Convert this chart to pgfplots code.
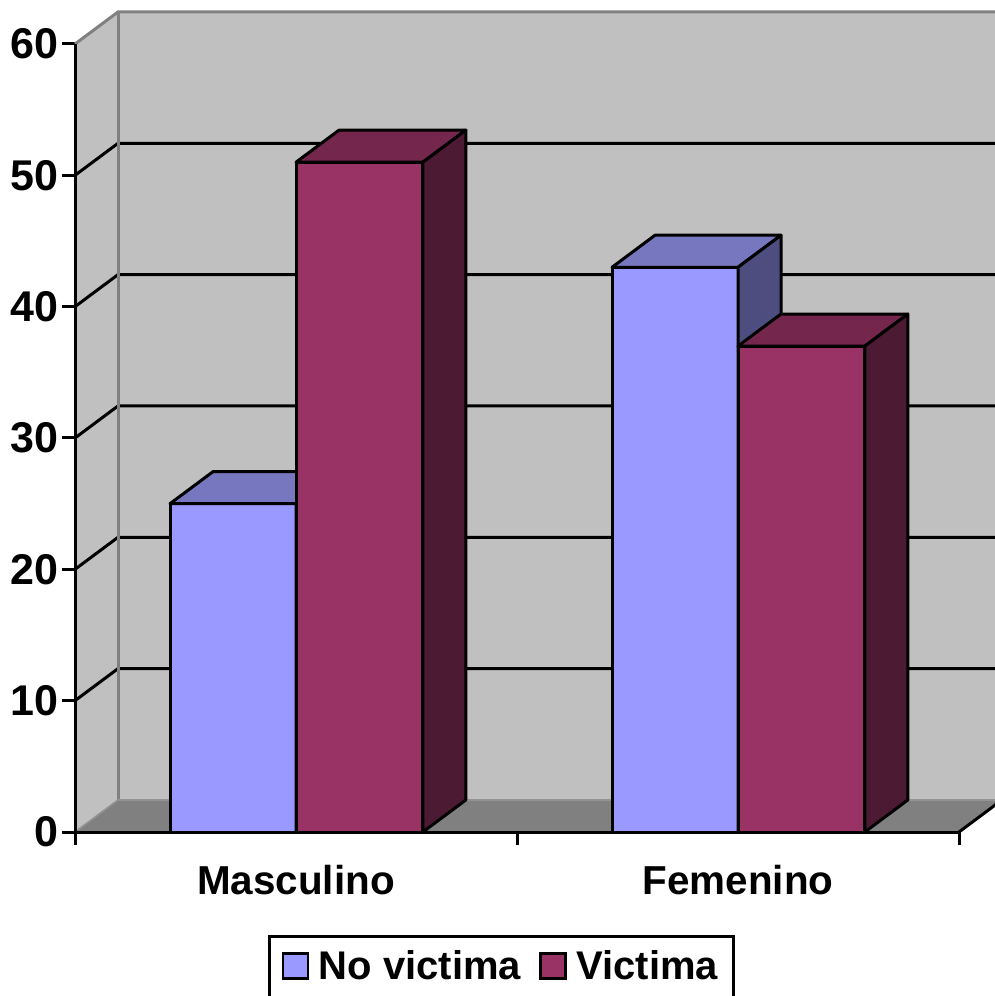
\documentclass[border=0pt]{standalone}
\usepackage{pgfplots}
\usepackage{fontspec}
\setmainfont{Liberation Sans}
\pgfplotsset{compat=1.18}
\definecolor{wall}{HTML}{C0C0C0}
\definecolor{flr}{HTML}{808080}
\definecolor{nvF}{HTML}{9999FF}
\definecolor{nvT}{HTML}{7777C0}
\definecolor{nvS}{HTML}{4D4D80}
\definecolor{vF}{HTML}{993366}
\definecolor{vT}{HTML}{74264D}
\definecolor{vS}{HTML}{4D1A33}
\pgfplotsset{sqlegend/.style={legend image code/.code={\path[draw=none,fill=none] (0pt,0pt) rectangle (16pt,0pt);\draw[##1] (0pt,-0.8pt) rectangle (12.6pt,11.8pt);}}}
% one bar: x0, x1, value, front, top, side (depth 0.0973 in x, 2.44 in y)
\newcommand{\threedbar}[6]{%
  \pgfmathsetmacro{\xa}{#1}\pgfmathsetmacro{\xb}{#2}\pgfmathsetmacro{\v}{#3}%
  \pgfmathsetmacro{\xc}{#1+0.0973}\pgfmathsetmacro{\xd}{#2+0.0973}\pgfmathsetmacro{\w}{#3+2.44}%
  \edef\temp{\noexpand\addplot[forget plot,draw=black,line width=1.5pt,line join=round,fill=#4] coordinates {(\xa,0) (\xb,0) (\xb,\v) (\xa,\v)} -- cycle;
  \noexpand\addplot[forget plot,draw=black,line width=1.5pt,line join=round,fill=#5] coordinates {(\xa,\v) (\xb,\v) (\xd,\w) (\xc,\w)} -- cycle;
  \noexpand\addplot[forget plot,draw=black,line width=1.5pt,line join=round,fill=#6] coordinates {(\xb,0) (\xd,2.44) (\xd,\w) (\xb,\v)} -- cycle;}%
  \temp}
\begin{document}
\begin{tikzpicture}[x=1pt,y=1pt]
\useasboundingbox (0,0) rectangle (497.5pt,498pt);
\clip (0,0) rectangle (497.5pt,498pt);
\begin{axis}[
  at={(37.5pt,82pt)}, anchor=origin,
  scale only axis, width=442pt, height=394pt,
  xmin=0, xmax=2, ymin=0, ymax=60,
  clip=false,
  axis x line=bottom, axis y line=left,
  axis line style={-, line width=1.5pt, black},
  tick style={line width=1.5pt, black},
  major tick length=6.5pt,
  xtick={0,1,2}, xticklabels={},
  extra x ticks={0.5,1.5},
  extra x tick labels={Masculino,Femenino},
  extra x tick style={major tick length=0pt, tick style={draw=none}},
  x tick label style={font=\fontsize{20.2}{24}\selectfont\bfseries, yshift=-16.5pt, inner sep=0pt},
  ytick={0,10,...,60},
  /pgf/number format/assume math mode=true,
  y tick label style={font=\fontsize{21.5}{24}\selectfont\bfseries, xshift=1.5pt},
  tick align=outside, tick pos=left,
  legend columns=2,
  legend style={at={(axis cs:0.4367,-7.85)}, anchor=north west, draw=black, line width=1.5pt,
    font=\fontsize{20}{24}\selectfont\bfseries, inner xsep=6pt, inner ysep=5pt, fill=white,
    /tikz/every even column/.append style={column sep=7pt}},
  legend cell align=left,
]
\addlegendimage{sqlegend, draw=black, line width=1.3pt, fill=nvF}
\addlegendentry[text depth=12pt]{No victima}
\addlegendimage{sqlegend, draw=black, line width=1.3pt, fill=vF}
\addlegendentry[text depth=12pt]{Victima\hspace{3pt}}
% left wall and back wall
\addplot[forget plot,fill=wall,draw=none] coordinates {(0,0) (0.0973,2.44) (0.0973,62.44) (0,60)} -- cycle;
\addplot[forget plot,fill=wall,draw=none] coordinates {(0.0973,2.44) (2.0973,2.44) (2.0973,62.44) (0.0973,62.44)} -- cycle;
% gridlines
\addplot[forget plot,black,line width=1.5pt] coordinates {(0,10) (0.0973,12.44) (2.0973,12.44)};
\addplot[forget plot,black,line width=1.5pt] coordinates {(0,20) (0.0973,22.44) (2.0973,22.44)};
\addplot[forget plot,black,line width=1.5pt] coordinates {(0,30) (0.0973,32.44) (2.0973,32.44)};
\addplot[forget plot,black,line width=1.5pt] coordinates {(0,40) (0.0973,42.44) (2.0973,42.44)};
\addplot[forget plot,black,line width=1.5pt] coordinates {(0,50) (0.0973,52.44) (2.0973,52.44)};
% wall edges
\addplot[forget plot,flr,line width=1.5pt] coordinates {(0,60) (0.0973,62.44) (2.0973,62.44)};
\addplot[forget plot,flr,line width=1.5pt] coordinates {(0.0973,62.44) (0.0973,2.44)};
% floor
\addplot[forget plot,fill=flr,draw=none] coordinates {(0,0) (2,0) (2.0973,2.44) (0.0973,2.44)} -- cycle;
\addplot[forget plot,flr!85!white,line width=0.8pt] coordinates {(0,0) (0.0973,2.44) (2.0973,2.44)};
\addplot[forget plot,black,line width=1.5pt] coordinates {(2,0) (2.0973,2.44)};
% bars
\threedbar{0.215}{0.5}{25}{nvF}{nvT}{nvS}
\threedbar{0.5}{0.787}{51}{vF}{vT}{vS}
\threedbar{1.215}{1.5}{43}{nvF}{nvT}{nvS}
\threedbar{1.5}{1.787}{37}{vF}{vT}{vS}
% axis lines over everything at the walls
\addplot[forget plot,black,line width=1.5pt] coordinates {(0,0) (0,60)};
\addplot[forget plot,black,line width=1.5pt] coordinates {(0,0) (2,0)};
\end{axis}
\end{tikzpicture}
\end{document}
